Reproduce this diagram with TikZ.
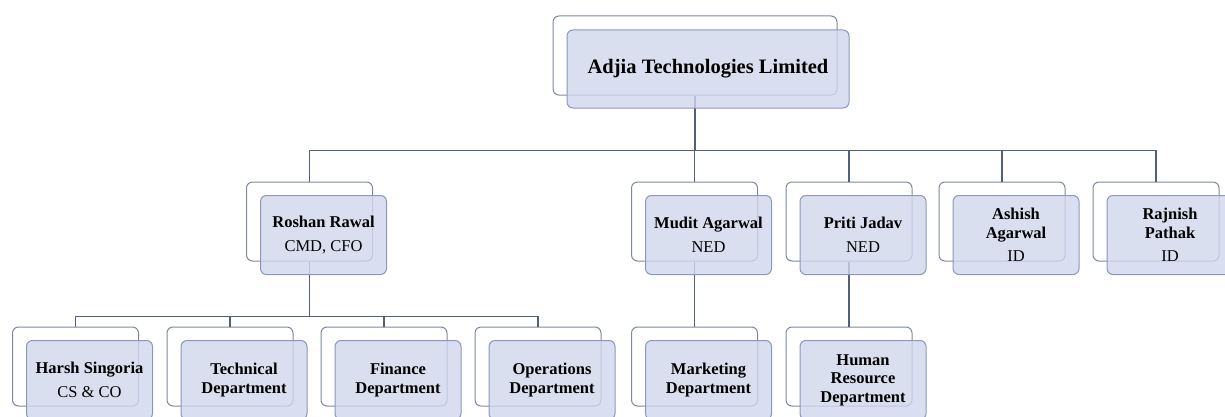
\documentclass[tikz,border=0pt]{standalone}
\usepackage{fontspec}
\setmainfont{Liberation Serif}
\usetikzlibrary{
    positioning,
    calc,
}
\definecolor{cardfill}{RGB}{208,215,236}
\definecolor{cardline}{RGB}{138,152,186}
\definecolor{backline}{RGB}{125,136,160}
\definecolor{linkcol}{RGB}{82,96,124}

\begin{document}
\begin{tikzpicture}[
    x=1pt, y=1pt,
    back/.style={draw=backline, line width=1pt, rounded corners=6pt, fill=white, minimum width=126pt, minimum height=79pt},
    card/.style={draw=cardline, line width=1pt, rounded corners=6pt, fill=cardfill, fill opacity=0.8, text opacity=1, align=center, minimum width=126pt, minimum height=79pt, inner sep=2pt, font=\fontsize{16.5}{19}\selectfont},
    dept/.style={card, font=\fontsize{16.5}{18.5}\selectfont\bfseries},
    link/.style={draw=linkcol, line width=1.1pt},
    ]

\useasboundingbox (0,0) rectangle (1225,416);
\clip (0,0) rectangle (1225,416);

% back cards
\node[back, minimum width=284pt] at (695,360.5) (top) {};
\node[back] at (309.5,194.5) (roshan) {};
\node[back] at (694.5,194.5) (mudit) {};
\node[back] at (849,194.5) (priti) {};
\node[back] at (1002,194.5) (ashish) {};
\node[back] at (1156,194.5) (rajnish) {};
\node[back] at (75.5,49.5) (harsh) {};
\node[back] at (230,49.5) (technical) {};
\node[back] at (384,49.5) (finance) {};
\node[back] at (538,49.5) (operations) {};
\node[back] at (694.5,49.5) (marketing) {};
\node[back] at (849,49.5) (hr) {};

% connectors
\draw[link] (top.south) -- ++(0,-55) -| (roshan.north);
\draw[link] (top.south) -- ++(0,-55) -| (mudit.north);
\draw[link] (top.south) -- ++(0,-55) -| (priti.north);
\draw[link] (top.south) -- ++(0,-55) -| (ashish.north);
\draw[link] (top.south) -- ++(0,-55) -| (rajnish.north);

\draw[link] (roshan.south) -- ++(0,-55) -| (harsh.north);
\draw[link] (roshan.south) -- ++(0,-55) -| (technical.north);
\draw[link] (roshan.south) -- ++(0,-55) -| (finance.north);
\draw[link] (roshan.south) -- ++(0,-55) -| (operations.north);

\draw[link] (mudit.south) -- (marketing.north);
\draw[link] (priti.south) -- (hr.north);

% front cards
\node[card, minimum width=282pt, minimum height=78pt, font=\fontsize{20.5}{24}\selectfont\bfseries]
    at ([xshift=13pt,yshift=-13.5pt]top.center) (topf) {Adjia Technologies Limited};

\node[card] at ([xshift=14pt,yshift=-13.5pt]roshan.center) (roshanf)
    {\textbf{Roshan Rawal}\\[5pt]CMD, CFO};
\node[card] at ([xshift=14pt,yshift=-13.5pt]mudit.center) (muditf)
    {\textbf{Mudit Agarwal}\\[5pt]NED};
\node[card] at ([xshift=14pt,yshift=-13.5pt]priti.center) (pritif)
    {\textbf{Priti Jadav}\\[5pt]NED};
\node[card] at ([xshift=14pt,yshift=-13.5pt]ashish.center) (ashishf)
    {\textbf{Ashish}\\\textbf{Agarwal}\\[4pt]ID};
\node[card] at ([xshift=14pt,yshift=-13.5pt]rajnish.center) (rajnishf)
    {\textbf{Rajnish}\\\textbf{Pathak}\\[4pt]ID};

\node[card] at ([xshift=14pt,yshift=-13.5pt]harsh.center) (harshf)
    {\textbf{Harsh Singoria}\\[5pt]CS \& CO};
\node[dept] at ([xshift=14pt,yshift=-13.5pt]technical.center) (technicalf)
    {Technical\\Department};
\node[dept] at ([xshift=14pt,yshift=-13.5pt]finance.center) (financef)
    {Finance\\Department};
\node[dept] at ([xshift=14pt,yshift=-13.5pt]operations.center) (operationsf)
    {Operations\\Department};
\node[dept] at ([xshift=14pt,yshift=-13.5pt]marketing.center) (marketingf)
    {Marketing\\Department};
\node[dept] at ([xshift=14pt,yshift=-13.5pt]hr.center) (hrf)
    {Human\\Resource\\Department};

\end{tikzpicture}
\end{document}
